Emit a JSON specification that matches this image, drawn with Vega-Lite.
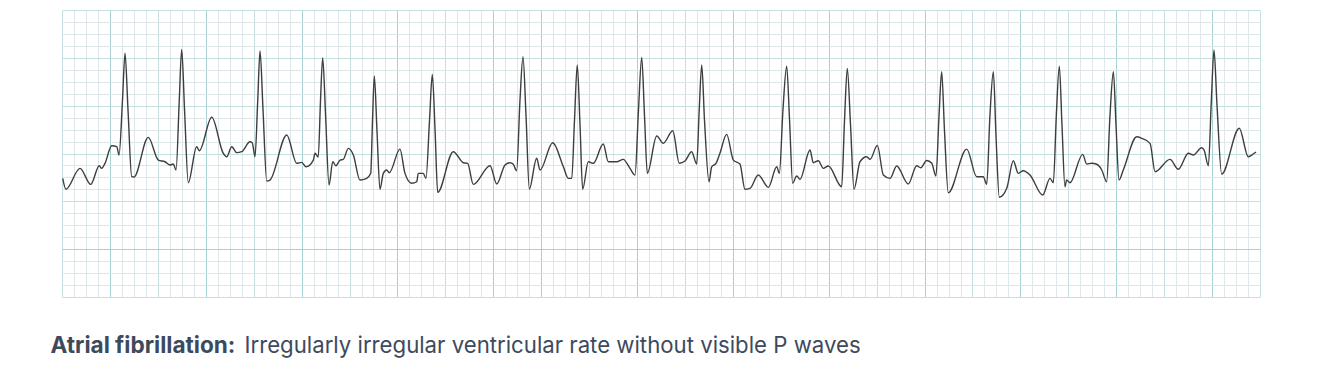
{
  "$schema": "https://vega.github.io/schema/vega-lite/v6.json",
  "autosize": "none",
  "width": 1198,
  "height": 287,
  "padding": {"left": 62, "top": 10, "right": 74, "bottom": 89},
  "background": "white",
  "config": {
    "view": {"stroke": null},
    "axis": {"labels": false, "ticks": false, "domain": false, "grid": true, "gridWidth": 1, "gridOpacity": 1}
  },
  "data": {
    "values": [
      {"t": 0.06, "mv": 9.92}, {"t": 0.33, "mv": 9.01}, {"t": 1.50, "mv": 10.76}, {"t": 2.40, "mv": 9.42},
      {"t": 3.11, "mv": 10.98}, {"t": 3.31, "mv": 10.76}, {"t": 3.59, "mv": 11.18}, {"t": 4.15, "mv": 12.65},
      {"t": 4.57, "mv": 12.57}, {"t": 4.76, "mv": 11.87}, {"t": 5.05, "mv": 16.47}, {"t": 5.26, "mv": 20.38},
      {"t": 5.51, "mv": 15.64}, {"t": 5.82, "mv": 10.06}, {"t": 6.01, "mv": 10.03}, {"t": 7.20, "mv": 13.35},
      {"t": 8.04, "mv": 11.45}, {"t": 8.60, "mv": 11.31}, {"t": 9.02, "mv": 11.04}, {"t": 9.29, "mv": 11.12},
      {"t": 9.52, "mv": 10.62}, {"t": 9.79, "mv": 16.47}, {"t": 9.99, "mv": 20.71}, {"t": 10.23, "mv": 15.64},
      {"t": 10.54, "mv": 9.56}, {"t": 11.24, "mv": 12.57}, {"t": 11.46, "mv": 12.23}, {"t": 12.50, "mv": 15.03},
      {"t": 13.46, "mv": 12.02}, {"t": 13.75, "mv": 11.73}, {"t": 14.17, "mv": 12.57}, {"t": 14.58, "mv": 12.07},
      {"t": 15.00, "mv": 12.15}, {"t": 15.69, "mv": 12.98}, {"t": 15.88, "mv": 12.90}, {"t": 16.11, "mv": 11.73},
      {"t": 16.34, "mv": 16.47}, {"t": 16.53, "mv": 20.57}, {"t": 16.78, "mv": 15.64}, {"t": 17.09, "mv": 9.70},
      {"t": 17.36, "mv": 9.78}, {"t": 18.76, "mv": 13.55}, {"t": 19.59, "mv": 11.18}, {"t": 20.01, "mv": 11.26},
      {"t": 20.37, "mv": 10.89}, {"t": 20.98, "mv": 11.45}, {"t": 21.12, "mv": 12.02}, {"t": 21.39, "mv": 11.71},
      {"t": 21.58, "mv": 16.47}, {"t": 21.76, "mv": 20.01}, {"t": 22.00, "mv": 15.22}, {"t": 22.29, "mv": 9.36},
      {"t": 22.60, "mv": 11.31}, {"t": 22.87, "mv": 10.98}, {"t": 23.21, "mv": 11.45}, {"t": 23.48, "mv": 11.51},
      {"t": 23.90, "mv": 12.43}, {"t": 24.32, "mv": 11.87}, {"t": 24.87, "mv": 9.78}, {"t": 25.43, "mv": 9.92},
      {"t": 25.77, "mv": 10.34}, {"t": 25.92, "mv": 14.80}, {"t": 26.07, "mv": 18.48}, {"t": 26.29, "mv": 13.96},
      {"t": 26.54, "mv": 9.01}, {"t": 26.82, "mv": 10.34}, {"t": 27.10, "mv": 10.62}, {"t": 27.32, "mv": 10.39},
      {"t": 28.21, "mv": 12.37}, {"t": 28.63, "mv": 10.34}, {"t": 29.19, "mv": 9.51}, {"t": 29.61, "mv": 9.64},
      {"t": 29.74, "mv": 10.34}, {"t": 30.16, "mv": 10.34}, {"t": 30.38, "mv": 9.92}, {"t": 30.68, "mv": 14.80},
      {"t": 30.91, "mv": 18.62}, {"t": 31.14, "mv": 13.96}, {"t": 31.36, "mv": 8.75}, {"t": 32.66, "mv": 12.15},
      {"t": 33.50, "mv": 11.23}, {"t": 33.86, "mv": 11.18}, {"t": 34.33, "mv": 9.42}, {"t": 35.73, "mv": 10.98},
      {"t": 36.29, "mv": 9.45}, {"t": 36.98, "mv": 11.04}, {"t": 37.40, "mv": 11.23}, {"t": 37.67, "mv": 11.10},
      {"t": 37.95, "mv": 10.56}, {"t": 38.23, "mv": 16.47}, {"t": 38.48, "mv": 20.09}, {"t": 38.73, "mv": 15.22},
      {"t": 39.01, "mv": 9.03}, {"t": 39.62, "mv": 11.60}, {"t": 39.90, "mv": 10.62}, {"t": 40.96, "mv": 12.90},
      {"t": 41.85, "mv": 10.89}, {"t": 42.26, "mv": 9.92}, {"t": 42.55, "mv": 9.92}, {"t": 42.78, "mv": 14.80},
      {"t": 43.01, "mv": 19.40}, {"t": 43.24, "mv": 14.38}, {"t": 43.46, "mv": 9.01}, {"t": 43.93, "mv": 11.31},
      {"t": 44.35, "mv": 11.18}, {"t": 45.18, "mv": 12.79}, {"t": 45.60, "mv": 11.31}, {"t": 46.30, "mv": 11.31},
      {"t": 46.85, "mv": 11.51}, {"t": 47.41, "mv": 10.76}, {"t": 47.83, "mv": 10.20}, {"t": 48.12, "mv": 15.64},
      {"t": 48.39, "mv": 20.04}, {"t": 48.62, "mv": 15.22}, {"t": 48.86, "mv": 10.34}, {"t": 49.64, "mv": 13.46},
      {"t": 50.19, "mv": 12.85}, {"t": 50.98, "mv": 13.90}, {"t": 51.53, "mv": 11.18}, {"t": 52.00, "mv": 11.37},
      {"t": 52.56, "mv": 12.15}, {"t": 52.98, "mv": 11.12}, {"t": 53.19, "mv": 15.64}, {"t": 53.40, "mv": 19.40},
      {"t": 53.63, "mv": 14.80}, {"t": 54.01, "mv": 9.64}, {"t": 54.23, "mv": 10.89}, {"t": 54.59, "mv": 11.18},
      {"t": 54.92, "mv": 12.02}, {"t": 55.48, "mv": 13.60}, {"t": 56.04, "mv": 11.45}, {"t": 56.59, "mv": 11.12},
      {"t": 57.01, "mv": 9.01}, {"t": 57.43, "mv": 9.09}, {"t": 58.12, "mv": 10.20}, {"t": 58.96, "mv": 9.17},
      {"t": 59.66, "mv": 10.89}, {"t": 59.88, "mv": 10.34}, {"t": 60.18, "mv": 15.64}, {"t": 60.49, "mv": 19.31},
      {"t": 60.73, "mv": 14.80}, {"t": 60.99, "mv": 9.51}, {"t": 61.33, "mv": 10.12}, {"t": 61.60, "mv": 9.84},
      {"t": 62.44, "mv": 12.29}, {"t": 62.71, "mv": 11.23}, {"t": 63.13, "mv": 11.40}, {"t": 63.55, "mv": 10.76},
      {"t": 63.97, "mv": 10.95}, {"t": 65.08, "mv": 9.22}, {"t": 65.32, "mv": 14.80}, {"t": 65.55, "mv": 19.12},
      {"t": 65.82, "mv": 14.38}, {"t": 66.11, "mv": 9.01}, {"t": 66.61, "mv": 11.31}, {"t": 67.17, "mv": 11.73},
      {"t": 67.45, "mv": 11.51}, {"t": 68.06, "mv": 12.68}, {"t": 68.56, "mv": 10.20}, {"t": 69.12, "mv": 9.92},
      {"t": 69.67, "mv": 10.95}, {"t": 70.64, "mv": 9.45}, {"t": 71.34, "mv": 10.98}, {"t": 71.68, "mv": 10.81},
      {"t": 72.18, "mv": 11.41}, {"t": 72.60, "mv": 11.18}, {"t": 72.95, "mv": 10.12}, {"t": 73.21, "mv": 15.22},
      {"t": 73.43, "mv": 18.84}, {"t": 73.66, "mv": 13.96}, {"t": 73.98, "mv": 8.72}, {"t": 75.52, "mv": 12.37},
      {"t": 76.35, "mv": 10.06}, {"t": 76.90, "mv": 10.06}, {"t": 77.19, "mv": 9.42}, {"t": 77.46, "mv": 15.22},
      {"t": 77.74, "mv": 18.84}, {"t": 77.96, "mv": 13.55}, {"t": 78.24, "mv": 8.34}, {"t": 78.86, "mv": 9.09},
      {"t": 79.41, "mv": 11.40}, {"t": 79.82, "mv": 10.34}, {"t": 80.24, "mv": 10.56}, {"t": 80.80, "mv": 10.20},
      {"t": 81.86, "mv": 8.53}, {"t": 82.47, "mv": 9.92}, {"t": 82.75, "mv": 9.56}, {"t": 83.00, "mv": 15.22},
      {"t": 83.25, "mv": 19.31}, {"t": 83.47, "mv": 14.38}, {"t": 83.72, "mv": 9.22}, {"t": 83.86, "mv": 9.78},
      {"t": 84.14, "mv": 9.56}, {"t": 85.20, "mv": 11.93}, {"t": 85.53, "mv": 11.12}, {"t": 85.95, "mv": 11.18},
      {"t": 86.37, "mv": 11.10}, {"t": 86.79, "mv": 10.62}, {"t": 87.20, "mv": 9.64}, {"t": 87.48, "mv": 15.22},
      {"t": 87.76, "mv": 18.84}, {"t": 87.98, "mv": 14.38}, {"t": 88.23, "mv": 9.78}, {"t": 88.59, "mv": 10.62},
      {"t": 89.71, "mv": 13.40}, {"t": 90.12, "mv": 13.27}, {"t": 90.82, "mv": 12.85}, {"t": 91.24, "mv": 10.48},
      {"t": 92.49, "mv": 11.51}, {"t": 93.18, "mv": 10.68}, {"t": 94.02, "mv": 12.02}, {"t": 94.43, "mv": 11.87},
      {"t": 95.13, "mv": 12.48}, {"t": 95.33, "mv": 12.29}, {"t": 95.69, "mv": 10.98}, {"t": 95.94, "mv": 16.47},
      {"t": 96.16, "mv": 20.65}, {"t": 96.41, "mv": 16.05}, {"t": 96.80, "mv": 10.28}, {"t": 98.27, "mv": 14.11},
      {"t": 99.02, "mv": 11.73}, {"t": 99.31, "mv": 11.87}, {"t": 99.67, "mv": 12.12}
    ]
  },
  "layer": [
    {
      "mark": {"type": "line", "interpolate": "monotone", "stroke": "#3e3e3e", "strokeWidth": 1.4},
      "encoding": {
        "x": {
          "field": "t", "type": "quantitative",
          "scale": {"domain": [0, 100], "nice": false, "zero": false},
          "axis": {
            "orient": "bottom", "grid": true,
            "values": [1,2,3,5,6,7,9,10,11,13,14,15,17,18,19,21,22,23,25,26,27,29,30,31,33,34,35,37,38,39,41,42,43,45,46,47,49,50,51,53,54,55,57,58,59,61,62,63,65,66,67,69,70,71,73,74,75,77,78,79,81,82,83,85,86,87,89,90,91,93,94,95,97,98,99],
            "gridColor": "#dde7ea",
            "title": "Irregularly irregular ventricular rate without visible P waves",
            "titleFont": "Inter", "titleFontSize": 22.2, "titleFontWeight": "normal", "titleColor": "#3d4a5c",
            "titleAnchor": "start", "titleAlign": "left", "titleBaseline": "alphabetic",
            "titleX": 182, "titleY": 55
          }
        },
        "y": {
          "field": "mv", "type": "quantitative",
          "scale": {"domain": [0, 24], "nice": false, "zero": false},
          "axis": {
            "orient": "left", "grid": true,
            "values": [1,2,3,5,6,7,9,10,11,13,14,15,17,18,19,21,22,23],
            "gridColor": "#dde7ea",
            "title": "Atrial fibrillation:",
            "titleFont": "Inter", "titleFontSize": 22.6, "titleFontWeight": "bold", "titleColor": "#3d4a5c",
            "titleAngle": 0, "titleAlign": "left", "titleBaseline": "alphabetic",
            "titleX": -12, "titleY": 342
          }
        }
      }
    },
    {
      "mark": {"type": "line", "opacity": 0},
      "encoding": {
        "x": {
          "field": "t", "type": "quantitative",
          "scale": {"domain": [0, 100], "nice": false, "zero": false},
          "axis": {
            "orient": "top", "title": null, "grid": true,
            "values": [0,4,8,12,16,20,24,28,32,36,40,44,48,52,56,60,64,68,72,76,80,84,88,92,96,100],
            "gridColor": {"condition": {"test": "indexof([4,12,20,28,36,40,48,56,64,72,80,88,96], datum.value) >= 0", "value": "#a6d2d3"}, "value": "#c6dfe1"}
          }
        },
        "y": {
          "field": "mv", "type": "quantitative",
          "scale": {"domain": [0, 24], "nice": false, "zero": false},
          "axis": {
            "orient": "right", "title": null, "grid": true,
            "values": [0,4,8,12,16,20,24],
            "gridColor": {"condition": {"test": "datum.value == 4", "value": "#a6d2d3"}, "value": "#c6dfe1"}
          }
        }
      }
    }
  ],
  "resolve": {"scale": {"x": "independent", "y": "independent"}}
}
